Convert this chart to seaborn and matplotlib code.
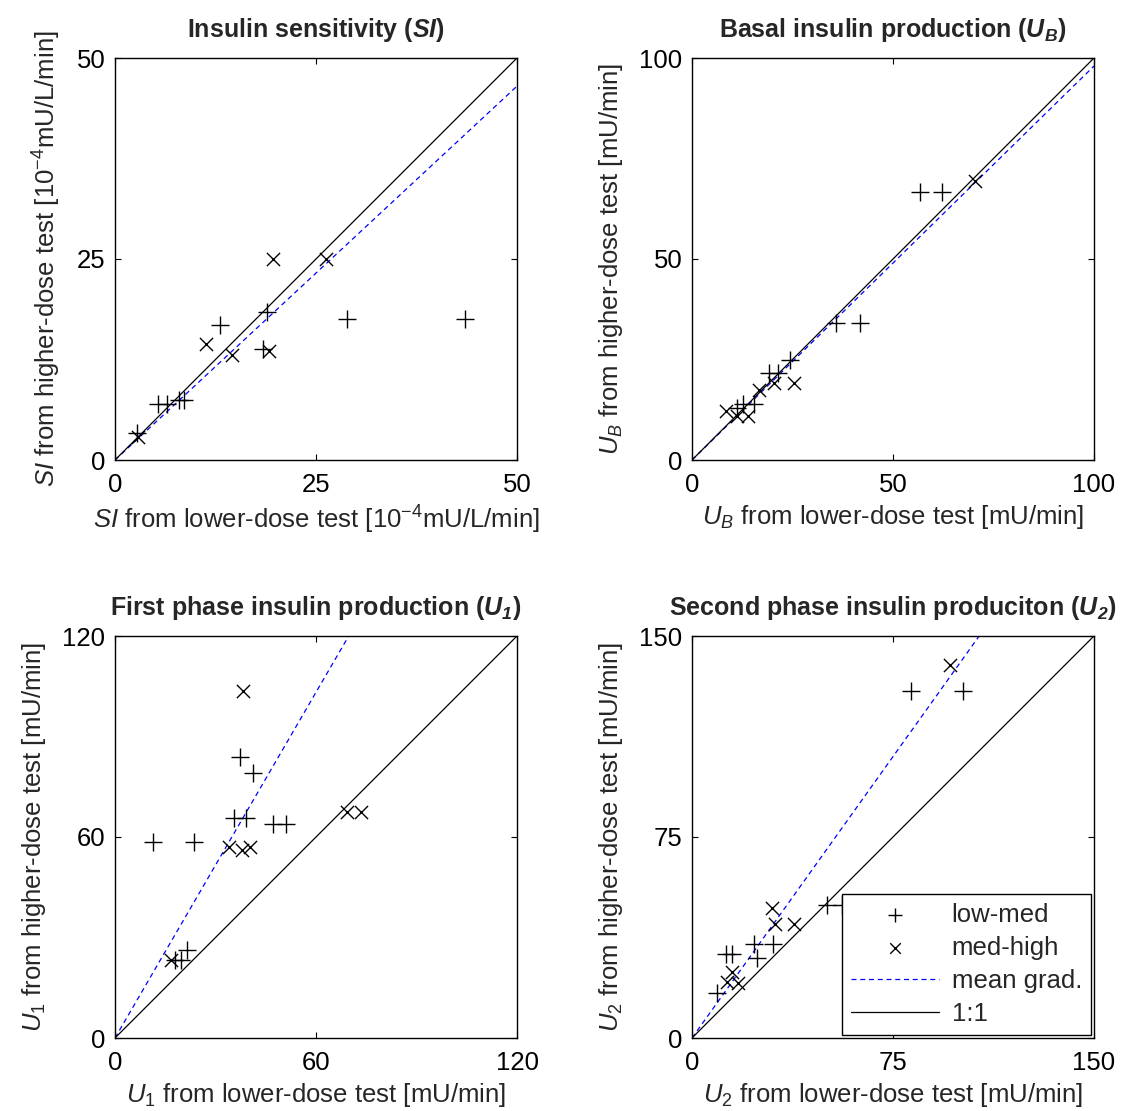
import matplotlib
matplotlib.use("Agg")
import matplotlib.pyplot as plt
import seaborn as sns
import numpy as np
import pandas as pd

sns.set_theme(style="ticks")
plt.rcParams["font.family"] = ["Liberation Sans", "DejaVu Sans"]
plt.rcParams["mathtext.fontset"] = "custom"
plt.rcParams["mathtext.rm"] = "Liberation Sans"
plt.rcParams["mathtext.it"] = "Liberation Sans:italic"
plt.rcParams["mathtext.bf"] = "Liberation Sans:bold"
plt.rcParams["mathtext.bfit"] = "Liberation Sans:italic:bold"

# Insulin sensitivity (SI), 10^-4 mU/L/min
si_lm_x = [18.9, 13.1, 18.4, 28.9, 43.5, 5.4, 6.5, 7.9, 8.6, 2.7]
si_lm_y = [18.4, 16.8, 13.8, 17.5, 17.5, 7.0, 7.0, 7.5, 7.5, 3.3]
si_mh_x = [19.7, 26.3, 11.3, 14.5, 19.2, 2.9]
si_mh_y = [25.0, 25.0, 14.4, 13.1, 13.6, 2.8]
si_grad = 0.93

# Basal insulin production (UB), mU/min
ub_lm_x = [56.7, 62.3, 35.7, 41.8, 24.4, 19.2, 21.5, 12.8, 15.3, 11.3]
ub_lm_y = [66.6, 66.6, 34.2, 34.2, 25.0, 21.7, 21.7, 13.9, 13.9, 12.9]
ub_mh_x = [70.4, 20.5, 25.4, 16.7, 8.4, 11.1, 14.0]
ub_mh_y = [69.5, 19.2, 19.2, 17.4, 12.3, 10.9, 10.9]
ub_grad = 0.98

# First phase insulin production (U1), mU/min
u1_lm_x = [37.3, 41.3, 35.5, 39.1, 47.3, 50.9, 11.4, 23.7, 21.4, 17.9, 19.7]
u1_lm_y = [84.0, 79.2, 65.6, 65.6, 63.8, 63.8, 58.6, 58.6, 26.3, 23.3, 23.3]
u1_mh_x = [38.3, 69.2, 73.3, 34.1, 38.0, 40.3, 16.7]
u1_mh_y = [103.7, 67.6, 67.6, 57.1, 56.1, 57.1, 23.3]
u1_grad = 1.72

# Second phase insulin production (U2), mU/min
u2_lm_x = [81.7, 101.2, 50.2, 55.9, 30.3, 23.1, 24.1, 12.7, 14.8, 9.2]
u2_lm_y = [129.6, 129.6, 49.6, 49.6, 35.0, 35.0, 29.7, 31.3, 31.3, 16.9]
u2_mh_x = [96.3, 29.7, 31.0, 38.1, 14.8, 12.9, 17.3]
u2_mh_y = [139.2, 48.4, 42.4, 42.4, 24.5, 21.0, 20.4]
u2_grad = 1.40

panels = [
    dict(title=r"Insulin sensitivity ($\mathbfit{SI}$)",
         xlabel=r"$SI$ from lower-dose test [10$^{-4}$mU/L/min]",
         ylabel=r"$SI$ from higher-dose test [10$^{-4}$mU/L/min]",
         lim=50, ticks=[0, 25, 50],
         lm=(si_lm_x, si_lm_y), mh=(si_mh_x, si_mh_y), grad=si_grad,
         rect=[115, 58]),
    dict(title=r"Basal insulin production ($\mathbfit{U_B}$)",
         xlabel=r"$U_B$ from lower-dose test [mU/min]",
         ylabel=r"$U_B$ from higher-dose test [mU/min]",
         lim=100, ticks=[0, 50, 100],
         lm=(ub_lm_x, ub_lm_y), mh=(ub_mh_x, ub_mh_y), grad=ub_grad,
         rect=[692, 58]),
    dict(title=r"First phase insulin production ($\mathbfit{U_1}$)",
         xlabel=r"$U_1$ from lower-dose test [mU/min]",
         ylabel=r"$U_1$ from higher-dose test [mU/min]",
         lim=120, ticks=[0, 60, 120],
         lm=(u1_lm_x, u1_lm_y), mh=(u1_mh_x, u1_mh_y), grad=u1_grad,
         rect=[115, 636]),
    dict(title=r"Second phase insulin produciton ($\mathbfit{U_2}$)",
         xlabel=r"$U_2$ from lower-dose test [mU/min]",
         ylabel=r"$U_2$ from higher-dose test [mU/min]",
         lim=150, ticks=[0, 75, 150],
         lm=(u2_lm_x, u2_lm_y), mh=(u2_mh_x, u2_mh_y), grad=u2_grad,
         rect=[692, 636]),
]

W, H = 1126, 1111
fig = plt.figure(figsize=(W / 100, H / 100), dpi=100)
size = 402

for i, p in enumerate(panels):
    x0, y0 = p["rect"]
    ax = fig.add_axes([x0 / W, (H - y0 - size) / H, size / W, size / H])
    lim = p["lim"]

    lm = pd.DataFrame({"x": p["lm"][0], "y": p["lm"][1]})
    mh = pd.DataFrame({"x": p["mh"][0], "y": p["mh"][1]})
    sns.scatterplot(data=lm, x="x", y="y", marker="+", s=160, color="black",
                    linewidth=1.0, ax=ax, label="low-med", zorder=3)
    sns.scatterplot(data=mh, x="x", y="y", marker="x", s=90, color="black",
                    linewidth=1.0, ax=ax, label="med-high", zorder=3)

    xs = np.array([0, lim])
    ax.plot(xs, p["grad"] * xs, color="blue", linestyle=(0, (4, 3)),
            linewidth=0.9, label="mean grad.")
    ax.plot(xs, xs, color="black", linewidth=0.9, label="1:1")

    ax.set_xlim(0, lim)
    ax.set_ylim(0, lim)
    ax.set_xticks(p["ticks"])
    ax.set_yticks(p["ticks"])
    ax.tick_params(direction="in", length=4, width=0.8, top=True, right=True,
                   labelsize=18.5, colors="black")
    ax.tick_params(axis="x", pad=9)
    ax.tick_params(axis="y", pad=7)
    for s in ax.spines.values():
        s.set_linewidth(1.0)
        s.set_color("black")
    ax.set_title(p["title"], fontsize=18, fontweight="bold", pad=15)
    ax.set_xlabel(p["xlabel"], fontsize=18.5, labelpad=5)
    ax.set_ylabel(p["ylabel"], fontsize=18.5, labelpad=10)

    if i == 3:
        leg = ax.legend(loc="lower right", fontsize=18.5, frameon=True,
                        fancybox=False, edgecolor="black", framealpha=1,
                        handlelength=3.4, handletextpad=0.5, borderpad=0.35,
                        labelspacing=0.35, borderaxespad=0.12,
                        markerscale=0.8)
        leg.get_frame().set_linewidth(1.0)
    else:
        ax.get_legend().remove()

fig.savefig("out.png", dpi=100, facecolor="white")
